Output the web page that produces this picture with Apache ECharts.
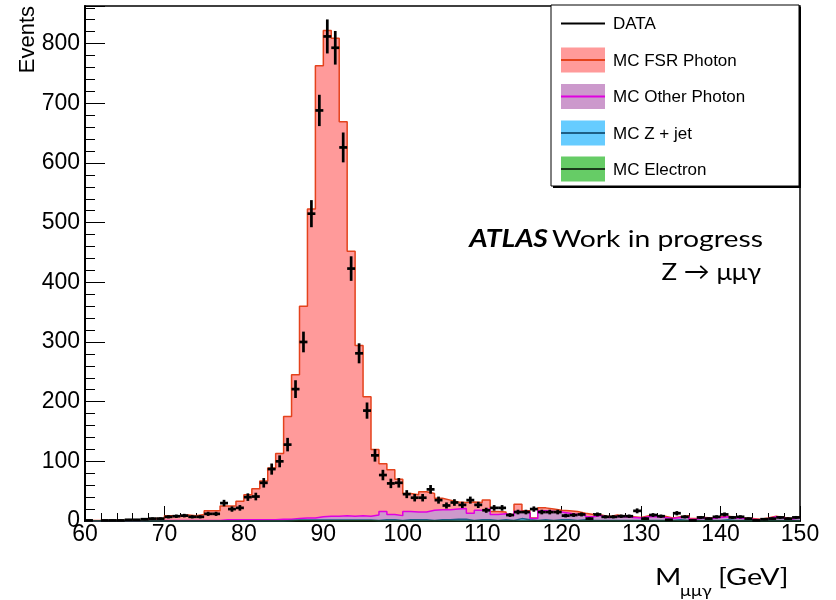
<!DOCTYPE html>
<html>
<head>
<meta charset="utf-8">
<script src="https://cdn.jsdelivr.net/npm/echarts@6/dist/echarts.min.js"></script>
<style>html,body{margin:0;padding:0;background:#fff}#c{width:836px;height:600px}</style>
</head>
<body>
<div id="c"></div>
<script>
// Histogram binning: 1 GeV bins from 60 to 150 GeV
const binLow = 60;
const binWidth = 1;

// DATA counts per bin (60..149)
const dataCounts = [
  1, 0, 1, 1, 1, 2, 2, 3, 4, 4,
  7, 8, 9, 7, 7, 12, 12, 30, 20, 22,
  40, 41, 64, 87, 100, 128, 221, 300, 515, 688,
  812, 793, 626, 423, 281, 185, 110, 77, 63, 64,
  45, 39, 39, 53, 35, 26, 31, 27, 35, 27,
  18, 22, 22, 10, 15, 15, 20, 15, 15, 15,
  9, 10, 11, 4, 11, 7, 7, 8, 8, 17,
  4, 10, 8, 2, 13, 7, 1, 6, 4, 7,
  11, 6, 7, 4, 1, 3, 4, 6, 4, 6
];

// MC components per bin (60..149)
const mcElectron = [
  0, 0, 0, 0, 0, 0, 0, 0, 0, 0,
  0, 0, 0, 0, 0, 0, 0, 0, 0, 0,
  0, 0, 0, 0, 0, 0, 0.5, 0.5, 0.5, 0.5,
  0.5, 0.5, 0.5, 0.5, 0.5, 0.5, 0, 0, 0, 0,
  0, 0, 0, 0, 0, 0, 0, 0, 0, 0,
  0, 0, 0, 0, 0, 0, 0, 0, 0, 0,
  0, 0, 0, 0, 0, 0, 0, 0, 0, 0,
  0, 0, 0, 0, 0, 0, 0, 0, 0, 0,
  0, 0, 0, 0, 0, 0, 0, 0, 0, 0
];
const mcZjet = [
  0, 0, 0, 0, 0, 0, 0, 0, 0, 0,
  0, 0, 0, 0, 0, 0, 0, 0, 0, 0,
  0, 0, 0, 0, 0, 1, 1, 1, 1, 1,
  1, 1, 1, 1, 1, 1, 1, 2, 2, 1,
  2, 2, 2, 1, 2, 2, 3, 3, 1, 2,
  2, 1, 2, 1, 4, 2, 1, 2, 1, 2,
  2, 1, 2, 1, 1, 1, 1, 1, 1, 1,
  1, 1, 1, 1, 2, 1, 1, 1, 1, 1,
  2, 1, 1, 1, 1, 1, 1, 1, 1, 1
];
const mcOther = [
  0, 0, 0, 0, 0, 0, 0, 1, 1, 1,
  1, 1, 1, 1, 1, 1, 1, 2, 2, 2,
  2, 2, 2, 2, 3, 2, 2.5, 3.5, 3.5, 5.5,
  6.5, 6.5, 7.5, 6.5, 7.5, 6.5, 9, 14, 9, 8,
  14, 13, 13, 17, 17, 17, 17, 18, 12, 16,
  18, 10, 10, 8, 12, 13, 3, 15, 15, 13,
  11, 10, 9, 6, 8, 5, 7, 6, 5, 4,
  6, 6, 5, 3, 4, 6, 2, 4, 3, 5,
  5, 4, 3, 2, 1, 3, 6, 4, 2, 5
];
const mcFsr = [
  1, 1, 1, 1, 1, 1, 1, 2, 3, 3,
  8, 8, 9, 8, 10, 16, 16, 23, 23, 31,
  42, 52, 65, 87, 110, 172, 241, 355, 518, 756,
  814, 801, 660, 444, 285, 200, 110, 80, 75, 61,
  30, 29, 34, 28, 19, 16, 12, 10, 19, 13,
  15, 5, 3, 2, 12, 2, 1, 5, 4, 3,
  4, 5, 2, 4, 1, 1, 2, 1, 1, 1,
  2, 1, 2, 1, 1, 2, 1, 1, 1, 1,
  1, 1, 1, 1, 1, 1, 1, 1, 1, 1
];

const legendLabels = ['DATA', 'MC FSR Photon', 'MC Other Photon', 'MC Z + jet', 'MC Electron'];

// cumulative stacks (as THStack draws them)
const cumElectron = mcElectron.slice();
const cumZjet = cumElectron.map((v, i) => v + mcZjet[i]);
const cumOther = cumZjet.map((v, i) => v + mcOther[i]);
const cumFsr = cumOther.map((v, i) => v + mcFsr[i]);

function stepData(arr) {
  const d = arr.map((v, i) => [binLow + i * binWidth, v]);
  d.push([binLow + arr.length * binWidth, arr[arr.length - 1]]);
  return d;
}

const colors = {
  fsrFill: '#ff9a9a', fsrLine: '#e4421c',
  othFill: '#cc99cc', othLine: '#e000e0',
  zjFill: '#66ccff', zjLine: '#1d5f86',
  elFill: '#66cc66', elLine: '#1a3a1a'
};

const chart = echarts.init(document.getElementById('c'), null, { renderer: 'canvas' });

function histSeries(arr, fill, line, z, name) {
  return {
    name: name, type: 'line', step: 'end', data: stepData(arr),
    symbol: 'none', showSymbol: false, z: z,
    lineStyle: { color: line, width: 1.5 },
    areaStyle: { color: fill, opacity: 1 },
    silent: true, animation: false
  };
}

const legendX = 551, legendY = 5, legendW = 248, legendH = 181;
const entryY = [23.5, 60, 96.5, 133, 169];
const swX1 = 561, swX2 = 605, swH = 25;
const fills = [null, colors.fsrFill, colors.othFill, colors.zjFill, colors.elFill];
const lines = ['#000', colors.fsrLine, colors.othLine, colors.zjLine, colors.elLine];
const legendGraphics = [
  { type: 'rect', shape: { x: legendX + 2, y: legendY + 2, width: legendW, height: legendH }, style: { fill: '#000' }, z: 20 },
  { type: 'rect', shape: { x: legendX, y: legendY, width: legendW, height: legendH }, style: { fill: '#fff', stroke: '#000', lineWidth: 1 }, z: 21 }
];
legendLabels.forEach((lab, i) => {
  if (fills[i]) {
    legendGraphics.push({ type: 'rect', shape: { x: swX1, y: entryY[i] - swH / 2, width: swX2 - swX1, height: swH }, style: { fill: fills[i] }, z: 22 });
  }
  legendGraphics.push({ type: 'line', shape: { x1: swX1, y1: entryY[i], x2: swX2, y2: entryY[i] }, style: { stroke: lines[i], lineWidth: 2 }, z: 23 });
  legendGraphics.push({ type: 'text', x: 613, y: entryY[i] + 1, style: { text: lab, fill: '#000', font: '17px "Liberation Sans", Arial, sans-serif', align: 'left', verticalAlign: 'middle' }, z: 23 });
});

const calibriLike = 'Lato, "Open Sans", sans-serif';

const option = {
  animation: false,
  backgroundColor: '#fff',
  grid: { left: 85, right: 36, top: 6, bottom: 79, show: true, borderColor: '#000', borderWidth: 1.5, backgroundColor: 'transparent', outerBoundsMode: 'none', containLabel: false },
  xAxis: {
    type: 'value', min: 60, max: 150, interval: 10,
    axisLine: { show: true, onZero: false, lineStyle: { color: '#000', width: 2 } },
    axisTick: { show: true, inside: true, length: 15, lineStyle: { color: '#000', width: 1 } },
    minorTick: { show: true, splitNumber: 5, length: 8, lineStyle: { color: '#000', width: 1 } },
    splitLine: { show: false },
    axisLabel: { color: '#000', fontSize: 23, fontFamily: '"Liberation Sans", Arial, sans-serif', margin: 2 }
  },
  yAxis: {
    type: 'value', min: 0, max: 863, interval: 100,
    axisLine: { show: true, onZero: false, lineStyle: { color: '#000', width: 2 } },
    axisTick: { show: true, inside: true, length: 20, lineStyle: { color: '#000', width: 1 } },
    minorTick: { show: true, splitNumber: 5, length: 10, lineStyle: { color: '#000', width: 1 } },
    splitLine: { show: false },
    axisLabel: { color: '#000', fontSize: 23, fontFamily: '"Liberation Sans", Arial, sans-serif', margin: 5, showMaxLabel: false }
  },
  series: [
    histSeries(cumFsr, colors.fsrFill, colors.fsrLine, 2, 'MC FSR Photon'),
    histSeries(cumOther, colors.othFill, colors.othLine, 3, 'MC Other Photon'),
    histSeries(cumZjet, colors.zjFill, colors.zjLine, 4, 'MC Z + jet'),
    histSeries(cumElectron, colors.elFill, colors.elLine, 5, 'MC Electron'),
    {
      name: 'DATA', type: 'custom', z: 10, animation: false, silent: true,
      data: dataCounts.map((v, i) => [binLow + (i + 0.5) * binWidth, v, Math.sqrt(v)]),
      renderItem: function (params, api) {
        const x = api.value(0), y = api.value(1), e = api.value(2);
        if (!(y > 0)) return { type: 'group', children: [] };
        const pL = api.coord([x - 0.5 * binWidth, y]);
        const pR = api.coord([x + 0.5 * binWidth, y]);
        const pT = api.coord([x, y + e]);
        const pB = api.coord([x, y - e]);
        return {
          type: 'group', children: [
            { type: 'line', shape: { x1: pL[0], y1: pL[1], x2: pR[0], y2: pR[1] }, style: { stroke: '#000', lineWidth: 2.7 } },
            { type: 'line', shape: { x1: pT[0], y1: pT[1], x2: pB[0], y2: pB[1] }, style: { stroke: '#000', lineWidth: 2.7 } }
          ]
        };
      }
    }
  ],
  graphic: legendGraphics.concat([
    { type: 'text', x: 39, y: 6, rotation: Math.PI / 2, style: { text: 'Events', fill: '#000', font: '22px "Liberation Sans", Arial, sans-serif', align: 'right', verticalAlign: 'bottom' }, z: 30 },
    { type: 'text', x: 763, y: 239, scaleX: 1.18, style: { text: '{b|ATLAS} {r|Work in progress}', align: 'right', verticalAlign: 'middle',
        rich: { b: { font: 'italic bold 24px ' + calibriLike, fill: '#000' }, r: { font: '24px ' + calibriLike, fill: '#000' } } }, z: 30 },
    { type: 'text', x: 761, y: 272, scaleX: 1.08, style: { text: 'Z \u2192 \u03bc\u03bc\u03b3', fill: '#000', font: '24px ' + calibriLike, align: 'right', verticalAlign: 'middle' }, z: 30 },
    { type: 'text', x: 655, y: 577, scaleX: 1.18, style: { text: 'M', fill: '#000', font: '24px ' + calibriLike, align: 'left', verticalAlign: 'middle' }, z: 30 },
    { type: 'text', x: 680, y: 591, scaleX: 1.15, style: { text: '\u03bc\u03bc\u03b3', fill: '#000', font: '16px ' + calibriLike, align: 'left', verticalAlign: 'middle' }, z: 30 },
    { type: 'text', x: 718, y: 577, scaleX: 1.2, style: { text: '[GeV]', fill: '#000', font: '24px ' + calibriLike, align: 'left', verticalAlign: 'middle' }, z: 30 }
  ])
};
chart.setOption(option);
</script>
</body>
</html>
